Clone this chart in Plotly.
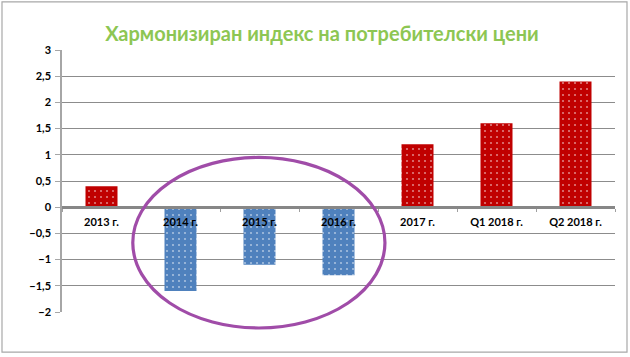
import plotly.graph_objects as go

categories = ["2013 г.", "2014 г.", "2015 г.", "2016 г.", "2017 г.", "Q1 2018 г.", "Q2 2018 г."]
values = [0.4, -1.6, -1.1, -1.3, 1.2, 1.6, 2.4]
title_text = "Хармонизиран индекс на потребителски цени"
y_ticks = [-2, -1.5, -1, -0.5, 0, 0.5, 1, 1.5, 2, 2.5, 3]

RED = "#C00000"
BLUE = "#4F81BD"
colors = [RED if v > 0 else BLUE for v in values]

FONT = "Lato, 'Open Sans', sans-serif"

fig = go.Figure()
fig.add_trace(go.Bar(
    x=categories, y=values,
    marker=dict(
        color=colors,
        line=dict(width=0),
        pattern=dict(shape=".", fgcolor="white", size=6, solidity=0.1, fillmode="overlay"),
    ),
    hoverinfo="skip",
))

fig.update_layout(
    width=630, height=357,
    margin=dict(l=62, r=15, t=50, b=45),
    paper_bgcolor="white", plot_bgcolor="white",
    separators=", ",
    bargap=0.595,
    showlegend=False,
    title=dict(text=title_text, x=0.511, xanchor="center", y=0.905, yanchor="middle",
               font=dict(family=FONT, size=20, color="#8DC653", weight="bold")),
    xaxis=dict(
        type="category", anchor="free", position=0.4,
        showline=True, linecolor="#878787", linewidth=2.5,
        ticks="outside", ticklen=3, tickcolor="#A0A0A0", tickson="boundaries",
        showgrid=False, zeroline=False,
        tickfont=dict(family=FONT, size=11, color="black", weight="bold"),
        ticklabelstandoff=4,
        range=[-0.5, 6.5],
    ),
    yaxis=dict(
        range=[-2, 3], tickvals=y_ticks, tickformat=",.1~f",
        showgrid=True, gridcolor="#8C8C8C", gridwidth=1,
        zeroline=False,
        showline=True, linecolor="#A6A6A6", linewidth=1.5,
        ticks="outside", ticklen=5, tickcolor="#A6A6A6",
        tickfont=dict(family=FONT, size=11, color="black", weight="bold"),
        ticklabelstandoff=2,
    ),
)

# chart frame
fig.add_shape(type="rect", xref="paper", yref="paper",
              x0=-0.1085, x1=1.0217, y0=-0.153, y1=1.184,
              line=dict(color="#A8A8A8", width=1.2), layer="below")
# highlight ellipse
fig.add_shape(type="circle", xref="paper", yref="paper",
              x0=0.128, x1=0.584, y0=-0.061, y1=0.59,
              line=dict(color="#A04CA8", width=3.2))

fig.write_html("out.html", config={"displayModeBar": False},
               post_script="document.body.style.margin='0';document.body.style.overflow='hidden';")
